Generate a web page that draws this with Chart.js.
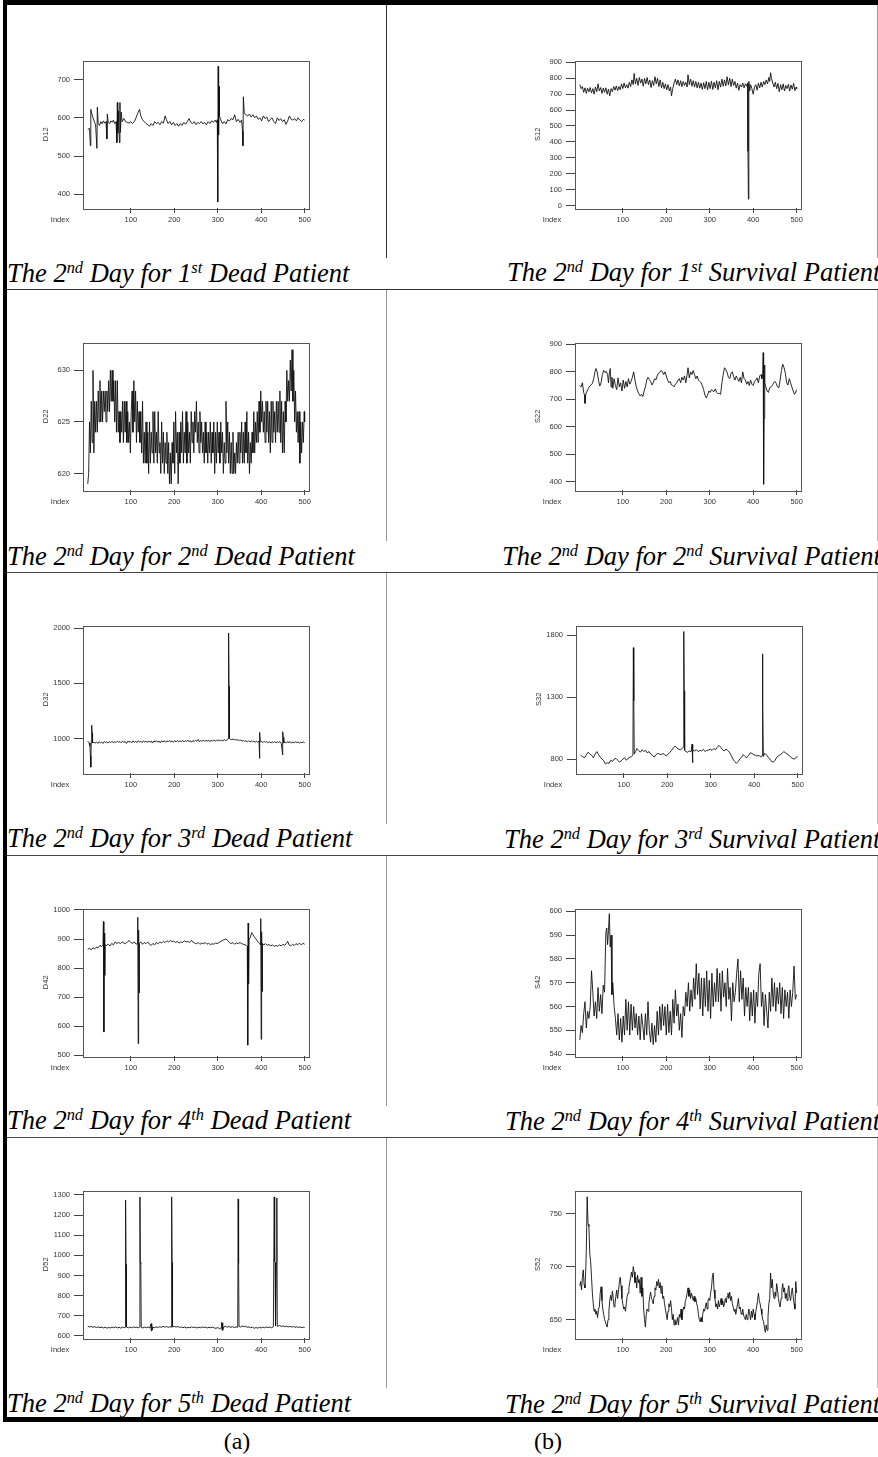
<!DOCTYPE html>
<html>
<head>
<meta charset="utf-8">
<script src="https://cdn.jsdelivr.net/npm/chart.js@4.4.0/dist/chart.umd.min.js"></script>
<style>
body { margin: 0; background: #fff; }
#page { position: relative; width: 878px; height: 1457px; overflow: hidden; background: #fff; }
.ln { position: absolute; }
.cap { position: absolute; font-family: "Liberation Serif", "Times New Roman", serif; font-style: italic;
       font-size: 26.5px; line-height: 30px; white-space: nowrap; color: #000; }
.cap sup { font-size: 62%; line-height: 0; vertical-align: 0.55em; }
.lab { position: absolute; font-family: "Liberation Serif", "Times New Roman", serif; font-size: 24px;
       line-height: 24px; width: 60px; text-align: center; }
canvas { position: absolute; }
</style>
</head>
<body>
<div id="page">
  <!-- heavy frame -->
  <div class="ln" style="left:3px;top:0;width:875px;height:5px;background:#000"></div>
  <div class="ln" style="left:3px;top:0;width:4px;height:1422px;background:#000"></div>
  <div class="ln" style="left:3px;top:1417px;width:875px;height:5px;background:#000"></div>
  <!-- row separators -->
  <div class="ln" style="left:7px;top:289px;width:871px;height:1px;background:#333"></div>
  <div class="ln" style="left:7px;top:572px;width:871px;height:1px;background:#444"></div>
  <div class="ln" style="left:7px;top:855px;width:871px;height:1px;background:#444"></div>
  <div class="ln" style="left:7px;top:1137px;width:871px;height:1px;background:#444"></div>
  <!-- column divider and right edge -->
  <div class="ln" style="left:386px;top:5px;width:1px;height:253px;background:#333"></div>
  <div class="ln" style="left:386px;top:290px;width:1px;height:251px;background:#999"></div>
  <div class="ln" style="left:386px;top:573px;width:1px;height:251px;background:#999"></div>
  <div class="ln" style="left:386px;top:856px;width:1px;height:250px;background:#999"></div>
  <div class="ln" style="left:386px;top:1138px;width:1px;height:250px;background:#999"></div>
  <div class="ln" style="left:877px;top:5px;width:1px;height:253px;background:#999"></div>
  <div class="ln" style="left:877px;top:290px;width:1px;height:251px;background:#bbb"></div>
  <div class="ln" style="left:877px;top:573px;width:1px;height:251px;background:#bbb"></div>
  <div class="ln" style="left:877px;top:856px;width:1px;height:250px;background:#bbb"></div>
  <div class="ln" style="left:877px;top:1138px;width:1px;height:250px;background:#bbb"></div>

  <div class="cap" style="left:7px;top:258px">The 2<sup>nd</sup> Day for 1<sup>st</sup> Dead Patient</div>
  <div class="cap" style="left:507px;top:257px">The 2<sup>nd</sup> Day for 1<sup>st</sup> Survival Patient</div>
  <div class="cap" style="left:7px;top:541px">The 2<sup>nd</sup> Day for 2<sup>nd</sup> Dead Patient</div>
  <div class="cap" style="left:502px;top:541px">The 2<sup>nd</sup> Day for 2<sup>nd</sup> Survival Patient</div>
  <div class="cap" style="left:7px;top:823px">The 2<sup>nd</sup> Day for 3<sup>rd</sup> Dead Patient</div>
  <div class="cap" style="left:504px;top:824px">The 2<sup>nd</sup> Day for 3<sup>rd</sup> Survival Patient</div>
  <div class="cap" style="left:7px;top:1105px">The 2<sup>nd</sup> Day for 4<sup>th</sup> Dead Patient</div>
  <div class="cap" style="left:505px;top:1106px">The 2<sup>nd</sup> Day for 4<sup>th</sup> Survival Patient</div>
  <div class="cap" style="left:7px;top:1388px">The 2<sup>nd</sup> Day for 5<sup>th</sup> Dead Patient</div>
  <div class="cap" style="left:505px;top:1389px">The 2<sup>nd</sup> Day for 5<sup>th</sup> Survival Patient</div>

  <div class="lab" style="left:207px;top:1429px">(a)</div>
  <div class="lab" style="left:518px;top:1429px">(b)</div>
</div>

<script>
// index ticks shared by every panel
const xTicks = [100, 200, 300, 400, 500];

// series: [index, value]
const d12 = [
 [1,570],[5,572],[7,527],[8,622],[10,612],[13,600],[16,590],[19,582],[22,520],[23,628],[25,585],[28,580],[31,590],[34,584],[37,592],[40,586],[43,590],[45,545],[46,610],[48,588],[51,585],[54,592],[57,588],[60,594],[63,585],[66,590],[68,535],[69,640],[70,560],[71,618],[72,590],[74,535],[75,640],[76,562],[78,615],[80,590],[84,598],[88,590],[92,588],[96,586],[100,590],[104,585],[108,590],[112,600],[116,612],[120,622],[123,605],[127,595],[131,590],[135,585],[139,582],[143,578],[147,585],[151,580],[155,590],[159,585],[163,588],[167,582],[171,590],[175,586],[179,605],[182,595],[186,585],[190,590],[194,582],[198,588],[202,580],[206,585],[210,578],[214,585],[218,580],[222,588],[226,583],[230,590],[234,598],[238,588],[242,585],[246,590],[250,582],[254,588],[258,585],[262,590],[266,584],[270,588],[274,582],[278,590],[282,585],[286,592],[290,588],[294,594],[297,588],[299,595],[300,380],[301,735],[302,555],[303,682],[304,605],[307,595],[311,585],[315,590],[319,584],[323,595],[327,592],[331,598],[335,595],[339,608],[343,590],[347,596],[351,588],[355,594],[357,565],[358,527],[359,655],[361,612],[365,608],[369,605],[373,610],[377,602],[381,608],[385,600],[389,605],[393,596],[397,600],[401,592],[405,605],[409,598],[413,602],[417,590],[421,596],[425,600],[429,590],[433,585],[437,600],[441,593],[445,598],[449,590],[453,595],[457,583],[461,592],[465,605],[469,596],[473,594],[477,598],[481,592],[485,600],[489,594],[493,590],[497,596],[500,594]
];
const s12 = [
 [1,760],[4,735],[7,748],[10,712],[13,740],[16,705],[19,738],[22,715],[25,742],[28,708],[31,735],[34,700],[37,745],[40,715],[43,765],[46,720],[49,742],[52,705],[55,738],[58,712],[61,740],[64,700],[67,732],[70,690],[73,735],[76,715],[79,748],[82,725],[85,752],[88,722],[91,748],[94,728],[97,765],[100,735],[103,770],[106,740],[109,760],[112,738],[115,775],[118,748],[121,790],[124,760],[126,830],[129,765],[132,800],[135,755],[138,805],[141,770],[144,795],[147,750],[150,800],[153,765],[156,805],[159,760],[162,790],[165,742],[168,785],[171,755],[174,810],[177,765],[180,800],[183,748],[186,790],[189,740],[192,775],[195,735],[198,765],[201,728],[204,760],[207,720],[210,745],[212,690],[215,735],[218,770],[221,795],[224,760],[227,790],[230,752],[233,785],[236,748],[239,780],[242,755],[245,775],[248,745],[250,822],[253,760],[256,795],[259,750],[262,785],[265,745],[268,780],[271,740],[274,775],[277,738],[280,770],[283,730],[286,772],[289,735],[292,780],[295,728],[298,775],[301,735],[304,782],[307,730],[310,775],[313,740],[316,785],[319,728],[322,780],[325,745],[328,795],[331,750],[334,790],[337,752],[340,810],[343,758],[346,800],[349,748],[352,795],[355,755],[358,780],[361,738],[364,770],[367,725],[370,760],[373,745],[376,770],[379,740],[382,765],[385,750],[387,770],[388,340],[389,40],[390,780],[392,720],[394,760],[397,735],[400,700],[403,745],[406,760],[409,725],[412,770],[415,740],[418,775],[421,745],[424,780],[427,760],[430,790],[433,765],[436,805],[438,780],[440,835],[442,800],[445,770],[448,745],[451,775],[454,735],[457,768],[460,715],[463,760],[466,728],[469,765],[472,720],[475,755],[478,735],[481,762],[484,720],[487,758],[490,732],[493,768],[496,722],[499,745],[500,735]
];
const d22 = [
 [1,619],[3,620],[5,625],[7,622],[9,627],[11,623],[13,630],[15,622],[17,627],[19,624],[21,627],[23,624],[25,628],[27,625],[29,629],[31,625],[33,628],[35,625],[37,628],[39,626],[41,628],[43,625],[45,628],[47,626],[49,629],[51,626],[53,630],[55,627],[57,630],[59,627],[61,629],[63,625],[65,629],[67,624],[69,629],[71,624],[73,626],[75,623],[77,626],[79,624],[81,627],[83,623],[85,627],[87,624],[89,627],[91,623],[93,626],[95,623],[97,625],[99,622],[101,626],[103,628],[105,624],[107,629],[109,625],[111,628],[113,623],[115,627],[117,624],[119,626],[121,623],[123,626],[125,622],[127,627],[129,621],[131,624],[133,621],[135,625],[137,621],[139,624],[141,620],[143,625],[145,621],[147,624],[149,622],[151,626],[153,621],[155,626],[157,622],[159,624],[161,621],[163,626],[165,622],[167,623],[169,620],[171,625],[173,621],[175,624],[177,620],[179,623],[181,621],[183,624],[185,620],[187,623],[189,619],[191,622],[193,619],[195,623],[197,621],[199,625],[201,620],[203,626],[205,622],[207,624],[209,619],[211,624],[213,621],[215,625],[217,622],[219,626],[221,621],[223,624],[225,622],[227,626],[229,621],[231,625],[233,622],[235,624],[237,621],[239,626],[241,623],[243,625],[245,622],[247,626],[249,624],[251,627],[253,623],[255,625],[257,622],[259,626],[261,623],[263,625],[265,622],[267,624],[269,621],[271,625],[273,622],[275,624],[277,621],[279,624],[281,622],[283,625],[285,621],[287,624],[289,622],[291,625],[293,620],[295,624],[297,621],[299,625],[301,622],[303,624],[305,621],[307,625],[309,622],[311,624],[313,620],[315,623],[317,621],[319,627],[321,622],[323,625],[325,621],[327,624],[329,620],[331,623],[333,620],[335,624],[337,620],[339,622],[341,620],[343,623],[345,621],[347,624],[349,621],[351,624],[353,622],[355,625],[357,621],[359,624],[361,621],[363,625],[365,622],[367,626],[369,621],[371,624],[373,620],[375,623],[377,621],[379,624],[381,622],[383,626],[385,622],[387,625],[389,623],[391,626],[393,623],[395,627],[397,624],[399,628],[401,625],[403,627],[405,624],[407,626],[409,623],[411,627],[413,624],[415,627],[417,623],[419,626],[421,622],[423,627],[425,623],[427,627],[429,624],[431,626],[433,623],[435,627],[437,624],[439,627],[441,624],[443,628],[445,623],[447,627],[449,622],[451,626],[453,622],[455,627],[457,625],[459,630],[461,627],[463,629],[465,627],[467,631],[469,628],[471,632],[473,627],[475,630],[477,625],[479,628],[481,624],[483,626],[485,623],[487,626],[489,621],[491,625],[493,622],[495,625],[497,623],[499,626],[500,625]
];
const s22 = [
 [1,750],[4,745],[7,760],[10,725],[12,715],[13,685],[15,720],[18,730],[21,740],[24,748],[27,752],[30,758],[33,775],[36,800],[38,812],[41,800],[44,770],[47,748],[50,760],[53,790],[56,805],[59,798],[62,802],[65,790],[67,760],[69,795],[71,812],[73,745],[75,780],[77,740],[80,775],[83,750],[86,735],[89,778],[92,745],[95,760],[98,730],[101,770],[104,740],[107,765],[110,745],[113,775],[116,755],[119,765],[122,780],[125,800],[128,770],[131,745],[134,730],[137,720],[140,712],[143,718],[146,710],[149,730],[152,745],[155,770],[158,780],[161,772],[164,765],[167,752],[170,760],[173,775],[176,770],[179,785],[182,795],[185,798],[188,805],[191,800],[194,790],[197,800],[200,785],[203,770],[206,760],[209,765],[212,752],[215,750],[218,745],[221,755],[224,760],[227,770],[230,775],[233,760],[236,780],[239,770],[242,785],[245,760],[248,790],[250,815],[253,778],[256,800],[259,790],[262,805],[265,790],[268,775],[271,785],[274,770],[277,765],[280,760],[283,750],[286,735],[289,715],[292,705],[295,715],[298,730],[301,725],[304,735],[307,730],[310,728],[313,738],[316,725],[319,720],[322,722],[325,718],[328,760],[331,790],[334,815],[337,808],[340,798],[343,780],[346,775],[349,795],[352,800],[355,782],[358,770],[361,785],[364,775],[367,765],[370,780],[373,760],[376,800],[379,775],[382,770],[385,755],[388,765],[391,750],[394,770],[397,755],[400,750],[403,765],[406,770],[409,778],[412,760],[415,785],[418,790],[420,775],[422,790],[423,870],[424,390],[425,630],[426,825],[427,760],[429,745],[432,730],[435,725],[438,742],[441,745],[444,750],[447,760],[450,765],[453,758],[456,745],[459,742],[462,770],[465,805],[468,828],[471,815],[474,795],[477,760],[480,752],[483,775],[486,760],[489,745],[492,730],[495,718],[497,722],[500,735]
];
const d32 = [
 [1,975],[4,960],[6,930],[7,840],[8,740],[9,975],[10,1120],[11,1050],[12,960],[15,965],[18,958],[21,968],[24,955],[27,970],[30,960],[33,968],[36,955],[39,972],[42,962],[45,970],[48,958],[51,972],[54,962],[57,975],[60,960],[63,970],[66,963],[69,975],[72,965],[75,972],[78,960],[81,975],[84,966],[87,972],[90,955],[93,975],[96,968],[99,972],[102,960],[105,978],[108,965],[111,975],[114,962],[117,978],[120,968],[123,975],[126,962],[129,978],[132,968],[135,976],[138,963],[141,978],[144,966],[147,975],[150,958],[153,978],[156,968],[159,980],[162,965],[165,976],[168,960],[171,978],[174,968],[177,980],[180,966],[183,978],[186,970],[189,982],[192,968],[195,978],[198,965],[201,980],[204,970],[207,982],[210,968],[213,978],[216,970],[219,983],[222,968],[225,980],[228,972],[231,985],[234,970],[237,980],[240,965],[243,982],[246,972],[249,985],[252,975],[255,990],[258,970],[261,982],[264,974],[267,985],[270,972],[273,984],[276,975],[279,985],[282,970],[285,984],[288,976],[291,986],[294,975],[297,985],[300,978],[303,988],[306,976],[309,985],[312,978],[315,988],[318,980],[321,986],[323,990],[324,1000],[325,1955],[326,1470],[327,1000],[329,992],[332,990],[335,994],[338,988],[341,990],[344,985],[347,988],[350,980],[353,985],[356,976],[359,982],[362,972],[365,980],[368,970],[371,978],[374,968],[377,978],[380,970],[383,976],[386,965],[389,975],[392,968],[395,975],[396,820],[397,1055],[398,970],[401,972],[404,962],[407,975],[410,965],[413,972],[416,960],[419,970],[422,958],[425,970],[428,962],[431,972],[434,960],[437,970],[440,962],[443,972],[446,958],[448,900],[449,850],[450,1060],[451,1010],[452,960],[455,970],[458,958],[461,972],[464,962],[467,970],[470,958],[473,968],[476,960],[479,970],[482,962],[485,968],[488,958],[491,966],[494,960],[497,968],[500,962]
];
const s32 = [
 [1,830],[5,820],[10,810],[14,835],[18,855],[22,840],[26,830],[30,810],[34,840],[38,860],[42,835],[46,815],[50,800],[54,785],[58,760],[62,770],[66,765],[70,790],[74,780],[78,800],[82,805],[86,790],[90,775],[94,785],[98,800],[102,810],[106,790],[110,805],[114,815],[118,820],[121,830],[122,1700],[123,1270],[124,840],[127,860],[130,885],[134,870],[138,855],[142,875],[146,860],[150,870],[154,850],[158,860],[162,840],[166,830],[170,815],[174,835],[178,845],[182,840],[186,835],[190,845],[194,835],[198,825],[202,840],[206,855],[210,870],[214,890],[218,905],[222,890],[226,880],[230,875],[234,885],[237,895],[238,1830],[239,1350],[240,870],[243,860],[247,855],[251,865],[255,860],[257,920],[258,770],[259,870],[263,865],[267,875],[271,860],[275,870],[279,865],[283,878],[287,860],[291,870],[295,872],[299,880],[303,870],[307,885],[311,875],[315,895],[319,910],[323,895],[327,875],[331,865],[335,880],[339,870],[343,855],[347,830],[351,800],[355,780],[359,765],[363,780],[367,800],[371,815],[375,835],[379,820],[383,810],[387,830],[391,850],[395,845],[399,835],[403,830],[407,825],[411,830],[415,815],[418,830],[419,1650],[420,1230],[421,820],[424,845],[428,835],[432,815],[436,800],[440,780],[444,775],[448,790],[452,815],[456,825],[460,835],[464,845],[468,860],[472,850],[476,840],[480,830],[484,815],[488,805],[492,800],[496,810],[500,822]
];
const d42 = [
 [1,865],[5,868],[9,863],[13,870],[17,866],[21,872],[25,870],[29,878],[33,874],[36,880],[37,960],[38,580],[39,920],[40,775],[41,880],[44,878],[48,882],[52,876],[56,885],[60,880],[64,890],[68,885],[72,888],[76,884],[80,890],[84,886],[88,884],[92,890],[96,895],[100,888],[104,885],[108,890],[112,882],[115,885],[116,975],[117,540],[118,930],[119,715],[120,885],[123,890],[127,882],[131,888],[135,884],[139,890],[143,882],[147,878],[151,885],[155,880],[159,888],[163,884],[167,890],[171,886],[175,892],[179,888],[183,894],[187,890],[191,895],[195,890],[199,893],[203,888],[207,892],[211,886],[215,890],[219,888],[223,894],[227,890],[231,892],[235,888],[239,895],[243,890],[247,886],[251,884],[255,888],[259,882],[263,886],[267,884],[271,888],[275,882],[279,886],[283,880],[287,884],[291,882],[295,886],[299,884],[303,888],[307,892],[311,895],[315,898],[319,900],[323,895],[327,888],[331,884],[335,888],[339,882],[343,887],[347,884],[351,888],[355,884],[359,882],[363,880],[366,878],[368,875],[369,535],[370,955],[371,745],[372,900],[375,905],[378,922],[381,915],[384,908],[387,902],[390,895],[393,890],[396,885],[398,880],[399,970],[400,555],[401,925],[402,720],[403,885],[406,880],[410,884],[414,878],[418,882],[422,876],[426,880],[430,874],[434,878],[438,875],[442,880],[446,876],[450,882],[454,878],[458,885],[461,892],[464,880],[468,876],[472,882],[476,878],[480,884],[484,880],[488,886],[492,880],[496,885],[500,882]
];
const s42 = [
 [1,546],[4,552],[7,549],[10,557],[13,562],[16,551],[19,558],[22,555],[25,560],[28,575],[31,566],[34,556],[37,562],[40,555],[43,568],[46,558],[49,565],[52,557],[55,569],[58,566],[61,591],[63,593],[65,586],[67,592],[69,599],[71,585],[73,590],[75,565],[77,570],[80,560],[83,555],[86,548],[89,557],[92,546],[95,555],[98,545],[101,556],[104,548],[107,563],[110,550],[113,562],[116,548],[119,561],[122,550],[125,560],[128,551],[131,557],[134,548],[137,556],[140,546],[143,557],[146,552],[149,546],[152,557],[155,548],[158,562],[161,550],[164,545],[167,553],[170,544],[173,552],[176,545],[179,558],[182,548],[185,560],[188,550],[191,561],[194,552],[197,560],[200,548],[203,561],[206,549],[209,558],[212,548],[215,563],[218,553],[221,567],[224,556],[227,561],[230,550],[233,557],[236,547],[239,560],[242,556],[245,566],[248,560],[251,570],[254,558],[257,567],[260,560],[263,572],[266,563],[269,578],[272,565],[275,574],[278,559],[281,572],[284,556],[287,572],[290,560],[293,575],[296,558],[299,571],[302,555],[305,574],[308,560],[311,570],[314,562],[317,576],[320,562],[323,574],[326,558],[329,575],[332,564],[335,570],[338,560],[341,576],[344,563],[347,568],[350,554],[353,570],[356,562],[359,566],[362,574],[365,580],[368,562],[371,575],[374,563],[377,572],[380,556],[383,568],[386,560],[389,568],[392,554],[395,566],[398,556],[401,567],[404,553],[407,566],[410,560],[413,574],[416,578],[419,560],[422,566],[425,552],[428,565],[431,558],[434,551],[437,566],[440,558],[443,572],[446,560],[449,570],[452,558],[455,568],[458,561],[461,570],[464,557],[467,568],[470,555],[473,567],[476,560],[479,566],[482,555],[485,567],[488,560],[491,566],[494,577],[497,563],[500,565]
];
const d52 = [
 [1,648],[5,645],[9,647],[13,643],[17,646],[21,642],[25,645],[29,641],[33,644],[37,640],[41,643],[45,639],[49,642],[53,640],[57,644],[61,641],[65,645],[69,640],[73,643],[77,639],[81,644],[85,641],[87,643],[88,1275],[89,955],[90,645],[94,640],[98,644],[102,641],[106,645],[110,642],[114,644],[118,640],[120,645],[121,1290],[122,965],[123,960],[124,642],[128,640],[132,644],[136,641],[140,644],[144,640],[146,660],[147,625],[148,662],[149,630],[150,644],[154,641],[158,645],[162,642],[166,646],[170,643],[174,648],[178,644],[182,647],[186,643],[190,646],[193,644],[194,1290],[195,965],[196,645],[200,648],[204,644],[208,647],[212,643],[216,645],[220,641],[224,644],[228,640],[232,643],[236,641],[240,645],[244,642],[248,644],[252,640],[256,643],[260,641],[264,645],[268,642],[272,644],[276,640],[280,643],[284,641],[288,644],[292,640],[296,638],[300,642],[304,636],[308,640],[309,668],[310,628],[311,665],[312,630],[314,645],[318,648],[322,644],[326,647],[330,643],[334,646],[338,642],[342,645],[346,643],[347,1280],[348,960],[349,648],[352,644],[356,650],[360,646],[364,648],[368,643],[372,645],[376,641],[380,644],[384,638],[388,642],[392,639],[396,643],[400,640],[404,644],[408,641],[412,645],[416,642],[420,644],[424,641],[428,646],[430,1290],[431,970],[432,965],[433,650],[435,965],[436,1285],[437,648],[440,650],[442,652],[446,648],[450,650],[454,646],[458,649],[462,645],[466,648],[470,644],[474,647],[478,643],[482,646],[486,642],[490,645],[494,641],[498,644],[500,642]
];
const s52 = [
 [1,682],[3,686],[5,678],[7,690],[9,697],[11,683],[13,680],[15,700],[16,715],[18,766],[20,740],[22,738],[24,712],[26,705],[28,690],[30,675],[32,665],[34,658],[36,660],[38,655],[40,658],[42,652],[44,660],[46,662],[48,675],[50,681],[52,668],[54,660],[56,655],[58,650],[60,648],[62,645],[64,643],[66,650],[68,658],[70,668],[72,673],[74,668],[76,677],[78,670],[80,662],[82,665],[84,672],[86,678],[88,670],[90,677],[92,685],[94,690],[96,682],[98,670],[100,665],[102,660],[104,662],[106,658],[108,665],[110,672],[112,675],[114,680],[116,685],[118,690],[120,695],[122,690],[124,700],[126,695],[128,685],[130,690],[132,680],[134,692],[136,685],[138,688],[140,675],[142,690],[144,672],[146,680],[148,660],[150,650],[152,643],[154,655],[156,660],[158,658],[160,665],[162,672],[164,676],[166,670],[168,668],[170,665],[172,672],[174,680],[176,678],[178,686],[180,682],[182,688],[184,680],[186,685],[188,675],[190,682],[192,670],[194,672],[196,665],[198,660],[200,655],[202,650],[204,658],[206,665],[208,662],[210,668],[212,660],[214,650],[216,655],[218,645],[220,650],[222,645],[224,648],[226,652],[228,645],[230,655],[232,652],[234,660],[236,650],[238,658],[240,662],[242,660],[244,668],[246,670],[248,675],[250,680],[252,672],[254,678],[256,670],[258,675],[260,672],[262,668],[264,672],[266,667],[268,670],[270,665],[272,662],[274,655],[276,650],[278,648],[280,652],[282,648],[284,655],[286,660],[288,658],[290,662],[292,666],[294,660],[296,668],[298,670],[300,668],[302,675],[304,680],[306,690],[308,694],[310,678],[312,670],[314,662],[316,665],[318,660],[320,668],[322,662],[324,665],[326,670],[328,664],[330,668],[332,662],[334,665],[336,670],[338,666],[340,672],[342,675],[344,670],[346,676],[348,668],[350,672],[352,665],[354,662],[356,658],[358,660],[360,655],[362,660],[364,665],[366,670],[368,660],[370,662],[372,656],[374,655],[376,660],[378,654],[380,652],[382,650],[384,655],[386,650],[388,653],[390,660],[392,655],[394,650],[396,658],[398,652],[400,660],[402,655],[404,650],[406,658],[408,662],[410,668],[412,675],[414,668],[416,665],[418,660],[420,655],[422,650],[424,648],[426,642],[428,638],[430,645],[432,640],[434,652],[436,665],[438,670],[440,694],[442,680],[444,688],[446,675],[448,670],[450,676],[452,672],[454,684],[456,678],[458,670],[460,665],[462,662],[464,670],[466,678],[468,684],[470,676],[472,680],[474,670],[476,675],[478,668],[480,678],[482,682],[484,672],[486,668],[488,675],[490,680],[492,672],[494,665],[496,660],[498,686],[500,675]
];

// y tick labels per panel
const d12Ticks = [400, 500, 600, 700];
const s12Ticks = [0, 100, 200, 300, 400, 500, 600, 700, 800, 900];
const d22Ticks = [620, 625, 630];
const s22Ticks = [400, 500, 600, 700, 800, 900];
const d32Ticks = [1000, 1500, 2000];
const s32Ticks = [800, 1300, 1800];
const d42Ticks = [500, 600, 700, 800, 900, 1000];
const s42Ticks = [540, 550, 560, 570, 580, 590, 600];
const d52Ticks = [600, 700, 800, 900, 1000, 1100, 1200, 1300];
const s52Ticks = [650, 700, 750];

// panel setup: name, series, ticks, y range, plot-box corner on the page
const panels = [
  { name: 'D12', data: d12, ticks: d12Ticks, yMin: 364,   yMax: 750,   box: [83.3, 58.3] },
  { name: 'S12', data: s12, ticks: s12Ticks, yMin: -16,   yMax: 912,   box: [574.5, 58.3] },
  { name: 'D22', data: d22, ticks: d22Ticks, yMin: 618.4, yMax: 632.7, box: [83.3, 340] },
  { name: 'S22', data: s22, ticks: s22Ticks, yMin: 369,   yMax: 907,   box: [575.3, 340.3] },
  { name: 'D32', data: d32, ticks: d32Ticks, yMin: 687,   yMax: 2023,  box: [83.3, 622.7] },
  { name: 'S32', data: s32, ticks: s32Ticks, yMin: 687,   yMax: 1879,  box: [576, 622.7] },
  { name: 'D42', data: d42, ticks: d42Ticks, yMin: 497.6, yMax: 1005,  box: [83.3, 905.7] },
  { name: 'S42', data: s42, ticks: s42Ticks, yMin: 539.2, yMax: 601.2, box: [575.3, 905.7] },
  { name: 'D52', data: d52, ticks: d52Ticks, yMin: 590,   yMax: 1322,  box: [83.3, 1187.7] },
  { name: 'S52', data: s52, ticks: s52Ticks, yMin: 632.7, yMax: 771.9, box: [575.3, 1187.7] }
];

const PADL = 72, PADR = 8, PADT = 6, PADB = 24;
const BOXW = 226, BOXH = 150;
const FONT = '"Liberation Sans", Arial, sans-serif';

const frameBox = {
  id: 'frameBox',
  afterDraw(chart, args, opts) {
    const { ctx, chartArea: a } = chart;
    ctx.save();
    ctx.strokeStyle = '#555';
    ctx.lineWidth = 1;
    ctx.strokeRect(Math.round(a.left) + 0.5, Math.round(a.top) + 0.5,
                   Math.round(a.right - a.left), Math.round(a.bottom - a.top));
    ctx.fillStyle = '#333';
    ctx.font = '7.5px ' + FONT;
    ctx.textAlign = 'center';
    ctx.textBaseline = 'middle';
    ctx.fillText('Index', a.left - 23, a.bottom + 11.5);
    ctx.translate(a.left - 37, (a.top + a.bottom) / 2);
    ctx.rotate(-Math.PI / 2);
    ctx.fillText(opts.name, 0, 0);
    ctx.restore();
  }
};

const page = document.getElementById('page');

panels.forEach(p => {
  const cv = document.createElement('canvas');
  const w = PADL + BOXW + PADR, h = PADT + BOXH + PADB;
  cv.width = w;
  cv.height = h;
  cv.style.width = w + 'px';
  cv.style.height = h + 'px';
  cv.style.left = (p.box[0] - PADL) + 'px';
  cv.style.top = (p.box[1] - PADT) + 'px';
  page.appendChild(cv);

  new Chart(cv, {
    type: 'line',
    data: {
      datasets: [{
        data: p.data.map(([x, y]) => ({ x, y })),
        borderColor: '#111',
        borderWidth: 0.9,
        pointRadius: 0,
        tension: 0
      }]
    },
    options: {
      responsive: false,
      animation: false,
      events: [],
      layout: { padding: { left: 0, top: PADT, right: PADR, bottom: 0 } },
      plugins: { legend: { display: false }, tooltip: { enabled: false }, frameBox: { name: p.name } },
      scales: {
        x: {
          type: 'linear', min: -10, max: 510,
          afterBuildTicks: s => { s.ticks = xTicks.map(v => ({ value: v })); },
          afterFit: s => { s.height = PADB; },
          border: { display: false },
          grid: { drawOnChartArea: false, drawTicks: true, tickLength: 5, color: '#444' },
          ticks: { font: { family: FONT, size: 7.5 }, color: '#333', padding: 2, maxRotation: 0,
                   autoSkip: false, callback: v => String(v) }
        },
        y: {
          type: 'linear', min: p.yMin, max: p.yMax,
          afterBuildTicks: s => { s.ticks = p.ticks.map(v => ({ value: v })); },
          afterFit: s => { s.width = PADL; },
          border: { display: false },
          grid: { drawOnChartArea: false, drawTicks: true, tickLength: 9, color: '#444' },
          ticks: { font: { family: FONT, size: 7.5 }, color: '#333', padding: 4,
                   autoSkip: false, callback: v => String(v) }
        }
      }
    },
    plugins: [frameBox]
  });
});
</script>
</body>
</html>
